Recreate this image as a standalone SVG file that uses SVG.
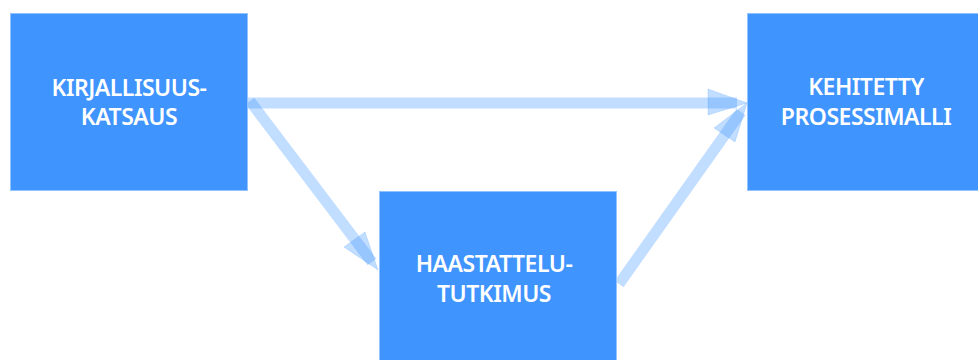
<svg xmlns="http://www.w3.org/2000/svg" width="978" height="360" viewBox="0 0 978 360">
  <style>
    .box { fill: #3f94fe; stroke: #93c4ff; stroke-width: 1; }
    .label { font-family: "Noto Sans", "Open Sans", sans-serif; font-weight: 600; font-size: 23px; letter-spacing: -0.5px; fill: #ffffff; text-anchor: middle; }
    .link { stroke: #3f94fe; stroke-opacity: 0.32; stroke-width: 11; fill: none; }
    .head { fill: #3f94fe; fill-opacity: 0.32; stroke: #3f94fe; stroke-opacity: 0.2; stroke-width: 1; }
  </style>
  <rect width="978" height="360" fill="#ffffff"/>

  <g id="connectors">
    <!-- literature review -> developed model -->
    <line class="link" x1="248" y1="103" x2="737" y2="103"/>
    <polygon class="head" points="708,89 747,103 708,115"/>
    <!-- literature review -> interview study -->
    <line class="link" x1="250" y1="101" x2="372" y2="262"/>
    <polygon class="head" points="365,232 378,270 344,247"/>
    <!-- interview study -> developed model -->
    <line class="link" x1="619" y1="284" x2="741" y2="112"/>
    <polygon class="head" points="714,128 747,103 735,142"/>
  </g>

  <g id="node-kirjallisuuskatsaus">
    <rect class="box" x="10.5" y="13.5" width="237" height="177"/>
    <text class="label" x="129" y="96">KIRJALLISUUS-</text>
    <text class="label" x="129" y="125">KATSAUS</text>
  </g>

  <g id="node-haastattelututkimus">
    <rect class="box" x="379.5" y="191.5" width="237" height="177"/>
    <text class="label" x="494" y="272">HAASTATTELU-</text>
    <text class="label" x="494" y="302">TUTKIMUS</text>
  </g>

  <g id="node-prosessimalli">
    <rect class="box" x="747.5" y="13.5" width="237" height="177"/>
    <text class="label" x="866" y="95">KEHITETTY</text>
    <text class="label" x="866" y="125">PROSESSIMALLI</text>
  </g>
</svg>
